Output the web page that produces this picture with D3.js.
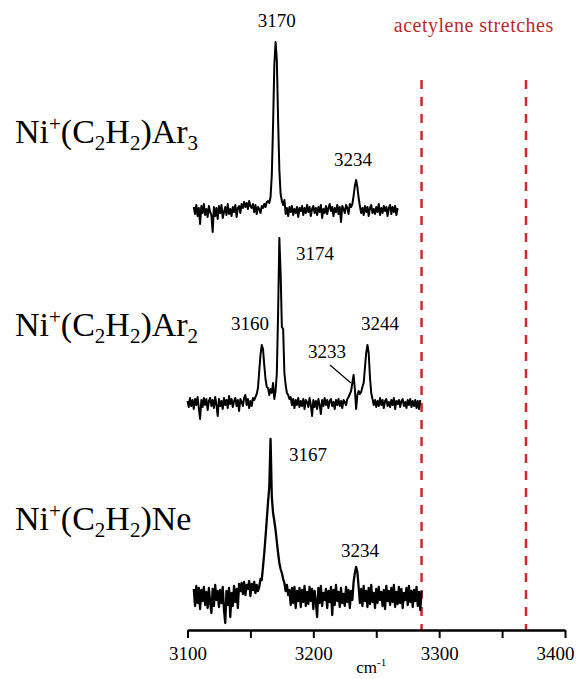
<!DOCTYPE html>
<html>
<head>
    <meta charset="utf-8">
    <title>Ni+(C2H2) complexes - IR spectra</title>
    <script src="https://d3js.org/d3.v7.min.js"></script>
    <style>
        body { margin: 0; background: #fff; }
        text { font-family: "Liberation Serif", "Times New Roman", serif; }
    </style>
</head>
<body>
    <div id="chart"></div>

    <script>
        // wavenumber ticks (cm-1)
        var xTicks = [3100, 3150, 3200, 3250, 3300, 3350, 3400];
        var xTickLabels = ["3100", "", "3200", "", "3300", "", "3400"];

        // acetylene C-H stretches (dashed red lines)
        var acetyleneLines = [3286, 3369];

        // traces: first wavenumber, 1 cm-1 steps, intensity (arb. units)
        var ar3Start = 3105;
        var ar3Values = [
            0.3, -0.4, 0.5, -0.6, 0.2, -1.4, 0.4, -0.3, 0.6, -0.5,
            0.1, -0.7, 0.4, -0.2, -0.5, -2.2, 0.3, -0.6, 0.2, -0.9,
            0.4, -0.3, 0.5, -0.8, -0.2, 0.3, -0.5, 0.6, -0.4, 0.1,
            -0.6, 0.3, -0.2, 0.5, -0.7, 0.2, 0.4, -0.3, 0.6, 0.2,
            0.8, 0.3, 0.7, 0.1, 0.9, 0.4, 0.2, 0.6, -0.2, 0.5,
            -0.4, 0.3, 0.1, -0.3, 0.4, 0.2, 0.6, 0.3, 0.8, 0.9,
            0.7, 1.3, 3.5, 8.5, 14.5, 16.8, 15.0, 9.0, 4.0, 1.6,
            0.9, 0.5, 1.0, -0.4, 0.2, -0.6, 0.3, -0.2, 0.4, -0.5,
            0.1, -0.3, 0.3, -0.7, 0.2, -0.1, 0.4, -0.5, 0.2, -0.3,
            0.5, -0.2, 0.3, -0.6, 0.1, 0.4, -0.3, 0.2, -0.5, 0.3,
            -0.2, 0.5, -0.8, 0.1, -0.3, 0.4, -0.4, 0.2, 0.6, -0.1,
            0.3, -0.6, 0.2, -0.2, 0.5, -0.4, 0.3, -1.2, 0.4, 0.1,
            -0.3, 0.5, 0.2, -0.4, 0.6, 0.3, 0.6, 1.4, 2.4, 3.0,
            2.3, 1.2, 0.4, -0.3, 0.2, -0.5, 0.4, -0.2, 0.3, -0.6,
            0.2, 0.5, -0.3, 0.1, -0.4, 0.3, -0.2, 0.6, -0.5, 0.2,
            -0.3, 0.4, -0.1, 0.3, -0.6, 0.2, 0.5, -0.4, 0.3, -0.2,
            0.4, -0.5, 0.2
        ];

        var ar2Start = 3100;
        var ar2Values = [
            0.2, -0.4, 0.5, -0.3, 0.3, -0.6, 0.4, -0.2, 0.6, -0.5,
            -1.6, 0.3, -0.4, 0.5, -0.2, 0.4, -0.7, 0.2, 0.5, -0.3,
            0.3, -0.5, 0.6, -0.2, -1.3, 0.4, -0.3, 0.2, -0.6, 0.5,
            -0.2, 0.3, -0.5, 0.7, -0.1, 0.4, -0.4, 0.2, 0.5, -0.3,
            0.3, -0.8, 0.4, 0.1, -0.3, 0.5, 0.8, -0.2, 0.4, -0.5,
            0.2, -0.3, 0.5, 0.3, 0.6, 0.9, 1.5, 3.2, 4.8, 5.8,
            5.4, 3.8, 2.4, 1.6, 1.5, 0.8, 1.4, 1.0, 2.0, 0.4,
            1.2, 3.0, 9.0, 16.5, 13.0, 7.6, 7.4, 3.0, 1.8, 1.0,
            0.8, 0.4, 0.6, -0.2, 0.4, -0.5, 0.3, -0.2, 0.5, -0.4,
            0.2, -0.3, 0.4, -0.6, 0.3, 0.1, -0.4, 0.5, -0.2, -1.3,
            0.3, -0.4, 0.2, -0.6, 0.4, -0.2, -1.1, 0.3, -0.3, 0.5,
            -0.2, 0.3, -0.5, 0.2, 0.4, -0.3, 0.1, -0.6, 0.3, -0.2,
            0.4, -0.3, 0.2, -0.5, 0.3, 0.1, -0.2, 0.4, 0.6, 0.9,
            1.2, 2.0, 2.8, 1.4, -0.6, 0.8, 1.2, 0.9, 1.1, 1.6,
            2.0, 3.5, 5.0, 5.8, 5.0, 2.6, 1.0, 0.4, -0.2, 0.3,
            -0.4, 0.2, -0.3, 0.5, -0.2, 0.3, -0.5, 0.2, 0.4, -0.3,
            0.1, -0.4, 0.3, -0.2, 0.5, -0.6, 0.2, -0.1, 0.3, -0.4,
            0.2, 0.4, -0.3, 0.1, -0.5, 0.3, -0.2, 0.4, -0.4, 0.2,
            -0.3, 0.3, -0.5, 0.2, -0.6, 0.3
        ];

        var neStart = 3105;
        var neValues = [
            0.8, -0.9, 1.1, -0.6, 0.9, -1.2, 0.7, -0.4, 1.0, -0.8,
            0.5, -1.1, 0.9, -0.5, -1.6, 0.8, -0.9, 1.2, -0.3, 0.6,
            -1.0, 0.7, -0.6, 1.0, -1.3, -2.6, 0.6, -0.8, 0.9, -2.0,
            0.4, -0.9, 1.1, -0.5, 0.8, -1.1, 1.3, 0.6, 1.4, 0.3,
            1.5, 0.2, 1.2, 0.8, 1.6, 0.1, 1.3, 0.7, 1.5, 0.4,
            1.2, 0.6, 1.0, 1.8, 1.7, 3.0, 4.4, 6.0, 7.7, 9.5,
            11.0, 15.8, 10.0, 8.4, 7.6, 6.7, 5.5, 4.4, 3.4, 2.8,
            2.4, 1.8, 1.4, 0.6, 1.2, 0.2, 0.7, -0.8, 0.9, -0.6,
            1.0, -1.1, 0.6, -0.4, 0.9, -1.0, 0.7, -0.5, 1.1, -0.9,
            0.5, -0.7, 1.0, -0.4, 0.8, -1.2, 0.6, -0.5, -2.0, 0.9,
            -0.6, 1.1, -0.9, 0.4, -0.3, 0.8, -1.1, 0.6, -0.5, 1.0,
            -1.8, 0.7, -0.8, 1.2, -0.4, 0.5, -1.0, 0.9, -0.6, 0.3,
            -0.9, 1.0, -0.5, 0.7, -1.1, 0.6, -0.3, 1.5, 2.4, 3.0,
            2.5, 1.0, -0.6, 0.8, -0.9, 1.1, -0.4, 0.6, -1.0, 0.9,
            -0.7, 1.2, -0.5, 0.4, -1.1, 0.8, -0.6, 1.0, -0.3, 0.5,
            -0.9, 0.7, -1.2, 1.1, -0.4, 0.6, -0.8, 0.9, -0.5, 1.2,
            -1.0, 0.5, -0.7, 1.0, -0.6, 0.8, -1.1, 0.4, -0.3, 0.9,
            -0.8, 1.1, -0.5, 0.6, -1.0, 0.7, -0.4, 1.0, -0.9, 0.5,
            -1.3, 0.6
        ];

        // vertical offsets of each trace (arb. units)
        var traceOffsets = [38.7, 19.4, 0];
        var traceNames = ["Ar", "Ar", "Ne"];
        var traceSubs = ["3", "2", ""];

        // peak labels: trace index, position (cm-1), height above trace baseline
        var peakText = ["3170", "3234", "3160", "3174", "3233", "3244", "3167", "3234"];
        var peakTrace = [0, 0, 1, 1, 1, 1, 2, 2];
        var peakAt = [3171, 3231.5, 3149.7, 3201.3, 3210.9, 3253, 3195.8, 3237];
        var peakLift = [18.3, 4.4, 7.3, 14.3, 4.5, 7.3, 13.6, 4.0];

        var width = 577, height = 679;

        var svg = d3.select("#chart")
          .append("svg")
            .attr("width", width)
            .attr("height", height);

        svg.append("rect")
            .attr("width", width)
            .attr("height", height)
            .attr("fill", "#fff");

        var x = d3.scaleLinear().domain([3100, 3400]).range([187.5, 565]);
        var y = d3.scaleLinear().domain([-3.3, 56.7]).range([630, 30]);

        function toPoints(start, values) {
            return values.map(function(v, i) { return { wn: start + i, v: v }; });
        }
        var traces = [
            toPoints(ar3Start, ar3Values),
            toPoints(ar2Start, ar2Values),
            toPoints(neStart, neValues)
        ];

        // red dashed reference lines
        svg.selectAll(".ref")
            .data(acetyleneLines)
          .enter().append("line")
            .attr("class", "ref")
            .attr("x1", function(d) { return x(d); })
            .attr("x2", function(d) { return x(d); })
            .attr("y1", y(51.7))
            .attr("y2", y(-3.3))
            .attr("stroke", "#cc2a2e")
            .attr("stroke-width", 2.5)
            .style("stroke-dasharray", "9, 8");

        svg.append("text")
            .attr("x", x(d3.mean(acetyleneLines)))
            .attr("y", y(56.5))
            .attr("text-anchor", "middle")
            .attr("fill", "#bb2a2c")
            .style("font-size", "20px")
            .style("letter-spacing", "0.5px")
            .text("acetylene stretches");

        // spectra
        traces.forEach(function(pts, k) {
            var line = d3.line()
                .x(function(d) { return x(d.wn); })
                .y(function(d) { return y(d.v + traceOffsets[k]); });
            svg.append("path")
                .datum(pts)
                .attr("d", line)
                .attr("fill", "none")
                .attr("stroke", "#000")
                .attr("stroke-width", k === 2 ? 2.3 : 2)
                .attr("stroke-linejoin", "round");
        });

        // peak labels
        peakText.forEach(function(t, i) {
            svg.append("text")
                .attr("x", x(peakAt[i]))
                .attr("y", y(traceOffsets[peakTrace[i]] + peakLift[i]))
                .attr("text-anchor", "middle")
                .style("font-size", "19px")
                .text(t);
        });

        // leader line for the 3233 shoulder
        svg.append("line")
            .attr("x1", x(3213.2)).attr("y1", y(traceOffsets[1] + 3.8))
            .attr("x2", x(3229.9)).attr("y2", y(traceOffsets[1] + 2.0))
            .attr("stroke", "#000")
            .attr("stroke-width", 1.2);

        // species names, e.g. Ni+(C2H2)Ar3
        traceNames.forEach(function(name, k) {
            var parts = [["Ni", 0], ["+", -1], ["(C", 0], ["2", 1], ["H", 0], ["2", 1], [")" + name, 0]];
            if (traceSubs[k]) parts.push([traceSubs[k], 1]);
            var label = svg.append("text")
                .attr("x", 15)
                .attr("y", y(traceOffsets[k] + 6.7))
                .style("font-size", "34px");
            var shift = 0;
            parts.forEach(function(p) {
                var target = p[1] === -1 ? -12 : (p[1] === 1 ? 7 : 0);
                label.append("tspan")
                    .attr("dy", target - shift)
                    .style("font-size", p[1] === 0 ? "34px" : "21px")
                    .text(p[0]);
                shift = target;
            });
        });

        // x axis
        var xAxis = d3.axisBottom(x)
            .tickValues(xTicks)
            .tickFormat(function(d, i) { return xTickLabels[i]; })
            .tickSize(8)
            .tickSizeOuter(0)
            .tickPadding(9);

        var axisG = svg.append("g")
            .attr("transform", "translate(0," + y(-3.3) + ")")
            .call(xAxis);
        axisG.select(".domain").attr("stroke", "#000").attr("stroke-width", 2.5);
        axisG.selectAll(".tick line").attr("stroke", "#000").attr("stroke-width", 2);
        axisG.selectAll(".tick text")
            .attr("fill", "#000")
            .attr("dx", function(d) { return d === 3400 ? -10 : 0; })
            .style("font-family", "'Liberation Serif', 'Times New Roman', serif")
            .style("font-size", "19px");

        var unit = svg.append("text")
            .attr("x", x(3246))
            .attr("y", 673)
            .attr("text-anchor", "middle")
            .style("font-size", "17px");
        unit.append("tspan").text("cm");
        unit.append("tspan").attr("dy", -7).style("font-size", "11px").text("-1");
    </script>
</body>
</html>
